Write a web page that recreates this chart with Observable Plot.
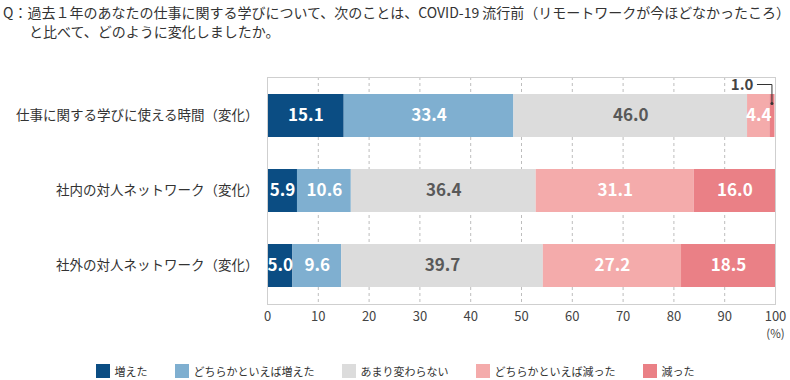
<!DOCTYPE html>
<html><head><meta charset="utf-8">
<script src="https://cdn.jsdelivr.net/npm/d3@7"></script>
<script src="https://cdn.jsdelivr.net/npm/@observablehq/plot@0.6"></script>
<style>
body{margin:0;background:#fff;font-family:"Noto Sans CJK JP",sans-serif;width:790px;height:380px;overflow:hidden}
#title{height:48px;font-size:14px;color:#333;line-height:19px;padding:3px 0 0 3px;box-sizing:border-box;white-space:nowrap}
#title .l2{padding-left:26px}
#chart{height:300px}
#legend{display:flex;justify-content:center;gap:27px;font-size:11px;color:#333;margin-top:16px;line-height:14px}
.item{display:flex;align-items:center}
.sw{width:14px;height:14px;margin-right:5px}
#chart svg g[aria-label^="y-axis"] text{font-size:13.5px;fill:#333}
#chart svg g[aria-label^="x-axis"] text{font-size:13px;fill:#444}
</style></head><body>
<div id="title"><div>Q：過去１年のあなたの仕事に関する学びについて、次のことは、COVID-19 流行前（リモートワークが今ほどなかったころ）</div><div class="l2">と比べて、どのように変化しましたか。</div></div>
<div id="chart"></div>
<div id="legend"></div>
<script>
const categories = ["仕事に関する学びに使える時間（変化）", "社内の対人ネットワーク（変化）", "社外の対人ネットワーク（変化）"];
const responses = ["増えた", "どちらかといえば増えた", "あまり変わらない", "どちらかといえば減った", "減った"];
const colors = ["#0b4d83", "#7fafd0", "#dcdcdc", "#f4abab", "#ea8086"];
const timeValues = [15.1, 33.4, 46.0, 4.4, 1.0];
const internalValues = [5.9, 10.6, 36.4, 31.1, 16.0];
const externalValues = [5.0, 9.6, 39.7, 27.2, 18.5];
const xTicks = [0, 10, 20, 30, 40, 50, 60, 70, 80, 90, 100];
const unitLabel = "(%)";

const series = [timeValues, internalValues, externalValues];
const rows = [];
categories.forEach((cat, i) => {
  let acc = 0;
  series[i].forEach((v, j) => {
    rows.push({cat, resp: responses[j], j, value: v, x1: acc, x2: acc + v, mid: acc + v / 2});
    acc += v;
  });
});
const labelled = rows.filter(d => d.value >= 3);
const small = rows.filter(d => d.value < 3);

function leader(index, scales) {
  const g = d3.create("svg:g");
  const step = scales.y(categories[1]) - scales.y(categories[0]);
  for (const d of small) {
    const cx = scales.x(d.mid);
    const cy = scales.y(d.cat) + step / 2;
    g.append("path")
      .attr("d", `M${cx - 15},${cy - 31}H${cx}V${cy - 12}`)
      .attr("fill", "none").attr("stroke", "#333").attr("stroke-width", 1);
    g.append("circle").attr("cx", cx).attr("cy", cy - 12).attr("r", 1.5).attr("fill", "#333");
  }
  return g.node();
}

const chart = Plot.plot({
  width: 790, height: 300,
  marginTop: 29, marginBottom: 44, marginLeft: 267, marginRight: 15,
  style: {fontFamily: "Noto Sans CJK JP, sans-serif", fontSize: "13px", color: "#444", background: "white", overflow: "visible"},
  x: {domain: [0, 100], ticks: xTicks, tickSize: 0, tickPadding: 7, label: null},
  y: {domain: categories, padding: 0, tickSize: 0, tickPadding: 9, label: null},
  color: {domain: responses, range: colors},
  marks: [
    Plot.ruleX(xTicks.filter(t => t > 0 && t < 100), {stroke: "#bdbdbd", strokeDasharray: "3,3"}),
    Plot.barX(rows, {x1: "x1", x2: "x2", y: "cat", fill: "resp", insetTop: 16, insetBottom: 16}),
    Plot.frame({stroke: "#cfcfcf"}),
    Plot.text(labelled.filter(d => d.j !== 2), {x: "mid", y: "cat", text: d => d.value.toFixed(1), fill: "white", fontWeight: "bold", fontSize: 17}),
    Plot.text(labelled.filter(d => d.j === 2), {x: "mid", y: "cat", text: d => d.value.toFixed(1), fill: "#595959", fontWeight: "bold", fontSize: 17}),
    Plot.text(small, {x: "mid", y: "cat", text: d => d.value.toFixed(1), fill: "#444", fontWeight: "bold", fontSize: 15, textAnchor: "end", dx: -19, dy: -31}),
    leader,
    Plot.text([unitLabel], {x: [xTicks[xTicks.length - 1]], frameAnchor: "bottom", dy: 33, text: d => d, fontSize: 11.5, fill: "#444"})
  ]
});
document.getElementById("chart").appendChild(chart);

const legend = d3.select("#legend");
responses.forEach((r, i) => {
  const it = legend.append("div").attr("class", "item");
  it.append("div").attr("class", "sw").style("background", colors[i]);
  it.append("span").text(r);
});
</script>
</body></html>
